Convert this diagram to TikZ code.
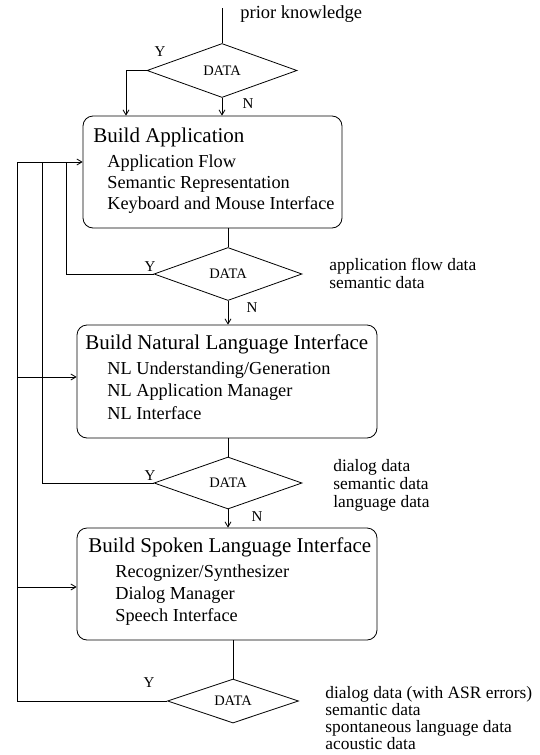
\documentclass[tikz,border=0pt]{standalone}
\usepackage{fontspec}
\setmainfont{Liberation Serif}
\usetikzlibrary{arrows.meta,shapes.geometric}
\begin{document}
\begin{tikzpicture}[x=1pt,y=-1pt,
  line width=0.8pt,
  arr/.style={-{Straight Barb[length=5pt,width=6pt]}},
  box/.style={draw,rounded corners=10pt,inner sep=0pt},
  dec/.style={draw,diamond,inner sep=0pt,aspect=2.8,font=\fontsize{14.5}{16}\selectfont},
  ttl/.style={anchor=west,inner sep=0pt,font=\fontsize{21}{24}\selectfont},
  itm/.style={anchor=west,inner sep=0pt,font=\fontsize{18.3}{21}\selectfont},
  lbl/.style={anchor=west,inner sep=0pt,align=left,font=\fontsize{17.4}{18}\selectfont},
  yn/.style={inner sep=0pt,font=\fontsize{15}{17}\selectfont},
]
\useasboundingbox (0,0) rectangle (539,755);

% boxes
\node[box,minimum width=259pt,minimum height=112pt] (b1) at (212.5,172) {};
\node[box,minimum width=300pt,minimum height=113pt] (b2) at (227,381.5) {};
\node[box,minimum width=300pt,minimum height=112pt] (b3) at (227,584) {};

\node[ttl] (t1) at (93,137) {Build Application};
\node[itm] (i11) at (107,163) {Application Flow};
\node[itm] (i12) at (107,184) {Semantic Representation};
\node[itm] (i13) at (107,205) {Keyboard and Mouse Interface};

\node[ttl] (t2) at (85,344) {Build Natural Language Interface};
\node[itm] (i21) at (107,370) {NL Understanding/Generation};
\node[itm] (i22) at (107,392) {NL Application Manager};
\node[itm] (i23) at (107,413) {NL Interface};

\node[ttl] (t3) at (88,547) {Build Spoken Language Interface};
\node[itm] (i31) at (115,573) {Recognizer/Synthesizer};
\node[itm] (i32) at (115,595) {Dialog Manager};
\node[itm] (i33) at (115,617) {Speech Interface};

% decisions
\node[dec,minimum width=150pt,minimum height=54pt] (d1) at (222,70.5) {DATA};
\node[dec,minimum width=148pt,minimum height=53pt] (d2) at (228,274) {DATA};
\node[dec,minimum width=148pt,minimum height=52pt] (d3) at (228,483) {DATA};
\node[dec,minimum width=131pt,minimum height=44pt] (d4) at (233,701) {DATA};

% labels
\node[itm,font=\fontsize{18.5}{21}\selectfont] (pk) at (240,14) {prior knowledge};
\node[lbl] (r2) at (329,273.5) {application flow data\\semantic data};
\node[lbl] (r3) at (333,485) {dialog data\\semantic data\\language data};
\node[lbl,font=\fontsize{17.4}{17.3}\selectfont] (r4) at (325,718) {dialog data (with ASR errors)\\semantic data\\spontaneous language data\\acoustic data};

\node[yn] (y1) at (160,52) {Y};
\node[yn] (n1) at (248,104) {N};
\node[yn] (y2) at (150,267) {Y};
\node[yn] (n2) at (252,308) {N};
\node[yn] (y3) at (150,476) {Y};
\node[yn] (n3) at (257,517) {N};
\node[yn] (y4) at (149,683) {Y};

% helper coordinates
\coordinate (top) at (222,8);
\coordinate (ya) at (126,0);
\coordinate (l1) at (17,0);
\coordinate (l2) at (42,0);
\coordinate (l3) at (66,0);
\coordinate (f1) at (0,162);
\coordinate (f2) at (0,377);
\coordinate (f3) at (0,587);

% connectors
\draw (top) -- (d1.north);
\draw[arr] (d1.south) -- (d1.south |- b1.north);
\draw[arr] (d1.west) -| (ya |- b1.north);

\draw (d2.north |- b1.south) -- (d2.north);
\draw[arr] (d2.south) -- (d2.south |- b2.north);
\draw (d2.west) -| (l3 |- f1);

\draw (d3.north |- b2.south) -- (d3.north);
\draw[arr] (d3.south) -- (d3.south |- b3.north);
\draw (d3.west) -| (l2 |- f1);

\draw (d4.north |- b3.south) -- (d4.north);
\draw (d4.west) -| (l1 |- f1);

\draw[arr] (l1 |- f1) -- (b1.west |- f1);
\draw[arr] (l1 |- f2) -- (b2.west |- f2);
\draw[arr] (l1 |- f3) -- (b3.west |- f3);
\end{tikzpicture}
\end{document}
